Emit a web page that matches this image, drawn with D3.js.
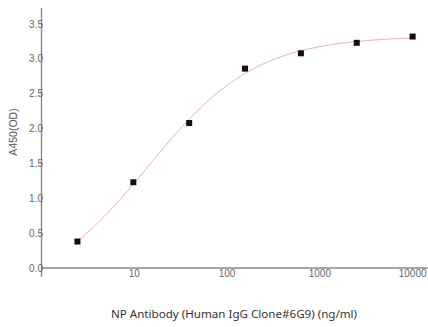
<!DOCTYPE html>
<html>
<head>
<meta charset="utf-8">
<script src="https://cdn.jsdelivr.net/npm/d3@7"></script>
<style>
  html, body { margin: 0; padding: 0; background: #fff; }
  svg { display: block; }
</style>
</head>
<body>
<svg id="chart" width="428" height="327"></svg>
<script>
// Antibody concentration (ng/ml), 4-fold dilution series
const concentrations = [2.44, 9.77, 39.06, 156.25, 625, 2500, 10000];
// Measured absorbance at 450 nm
const absorbance = [0.38, 1.23, 2.08, 2.86, 3.08, 3.23, 3.32];
const yTicks = [0.0, 0.5, 1.0, 1.5, 2.0, 2.5, 3.0, 3.5];
const xTicks = [10, 100, 1000, 10000];
const yTitle = "A450(OD)";
const xTitle = "NP Antibody (Human IgG Clone#6G9) (ng/ml)";

const svg = d3.select("#chart");

const x = d3.scaleLog().domain([1, 14650]).range([41.5, 428]);
const y = d3.scaleLinear().domain([0, 3.5]).range([268, 24]);

const axisColor = "#8a8a8a";
const labelColor = "#666";

// y axis line (runs a little past the x axis at the bottom)
svg.append("line")
  .attr("x1", 41.5).attr("x2", 41.5)
  .attr("y1", 8).attr("y2", 277)
  .attr("stroke", axisColor).attr("stroke-width", 1.4);

// x axis line
svg.append("line")
  .attr("x1", 41.5).attr("x2", 428)
  .attr("y1", y(0)).attr("y2", y(0))
  .attr("stroke", axisColor).attr("stroke-width", 1.4);

// y tick labels
svg.append("g").selectAll("text")
  .data(yTicks).join("text")
  .attr("x", 43)
  .attr("y", d => y(d))
  .attr("dy", "0.35em")
  .attr("text-anchor", "end")
  .attr("font-family", "Liberation Sans, Arial, sans-serif")
  .attr("font-size", 10)
  .attr("fill", labelColor)
  .text(d => d3.format(".1f")(d));

// x tick labels
svg.append("g").selectAll("text")
  .data(xTicks).join("text")
  .attr("x", d => x(d))
  .attr("y", 277)
  .attr("text-anchor", "middle")
  .attr("font-family", "Liberation Sans, Arial, sans-serif")
  .attr("font-size", 10)
  .attr("fill", labelColor)
  .text(d => String(d));

// axis titles
svg.append("text")
  .attr("transform", "translate(17,132) rotate(-90)")
  .attr("text-anchor", "middle")
  .attr("font-family", "Liberation Sans, Arial, sans-serif")
  .attr("font-size", 10.5)
  .attr("fill", "#555")
  .text(yTitle);

svg.append("text")
  .attr("x", 234)
  .attr("y", 318)
  .attr("text-anchor", "middle")
  .attr("font-family", "Noto Sans, sans-serif")
  .attr("font-size", 11.6)
  .attr("fill", "#333")
  .text(xTitle);

const pts = concentrations.map((c, i) => ({ c, v: absorbance[i] }));

// Four-parameter logistic fit of the measurements (Nelder–Mead least squares)
function fourPL(p, c) {
  const [bottom, top, logEC50, hill] = p;
  return bottom + (top - bottom) / (1 + Math.pow(10, (logEC50 - Math.log10(c)) * hill));
}
function sse(p) {
  return d3.sum(pts, d => (fourPL(p, d.c) - d.v) ** 2);
}
function nelderMead(f, start, iters = 2000) {
  const n = start.length;
  let simplex = [start.slice()];
  for (let i = 0; i < n; i++) {
    const v = start.slice();
    v[i] += (Math.abs(v[i]) > 1e-6 ? 0.1 * Math.abs(v[i]) : 0.1);
    simplex.push(v);
  }
  let vals = simplex.map(f);
  for (let k = 0; k < iters; k++) {
    const order = d3.range(n + 1).sort((a, b) => vals[a] - vals[b]);
    simplex = order.map(i => simplex[i]);
    vals = order.map(i => vals[i]);
    const centroid = d3.range(n).map(j => d3.mean(simplex.slice(0, n), v => v[j]));
    const worst = simplex[n];
    const refl = centroid.map((c, j) => c + (c - worst[j]));
    const fr = f(refl);
    if (fr < vals[0]) {
      const exp = centroid.map((c, j) => c + 2 * (c - worst[j]));
      const fe = f(exp);
      if (fe < fr) { simplex[n] = exp; vals[n] = fe; } else { simplex[n] = refl; vals[n] = fr; }
    } else if (fr < vals[n - 1]) {
      simplex[n] = refl; vals[n] = fr;
    } else {
      const con = centroid.map((c, j) => c + 0.5 * (worst[j] - c));
      const fc = f(con);
      if (fc < vals[n]) { simplex[n] = con; vals[n] = fc; }
      else {
        for (let i = 1; i <= n; i++) {
          simplex[i] = simplex[i].map((v, j) => simplex[0][j] + 0.5 * (v - simplex[0][j]));
          vals[i] = f(simplex[i]);
        }
      }
    }
  }
  return simplex[0];
}
const fit = nelderMead(sse, [0.1, 3.4, Math.log10(30), 1]);

const lo = Math.log10(concentrations[0]);
const hi = Math.log10(concentrations[concentrations.length - 1]);
const curvePts = d3.range(0, 201).map(i => {
  const c = Math.pow(10, lo + (hi - lo) * i / 200);
  return { c, v: fourPL(fit, c) };
});

const line = d3.line()
  .x(d => x(d.c))
  .y(d => y(d.v));

svg.append("path")
  .datum(curvePts)
  .attr("d", line)
  .attr("fill", "none")
  .attr("stroke", "#eeaaaa")
  .attr("stroke-width", 1);

// square markers
const s = 6;
svg.append("g").selectAll("rect")
  .data(pts).join("rect")
  .attr("x", d => x(d.c) - s / 2)
  .attr("y", d => y(d.v) - s / 2)
  .attr("width", s).attr("height", s)
  .attr("fill", "#111");
</script>
</body>
</html>
